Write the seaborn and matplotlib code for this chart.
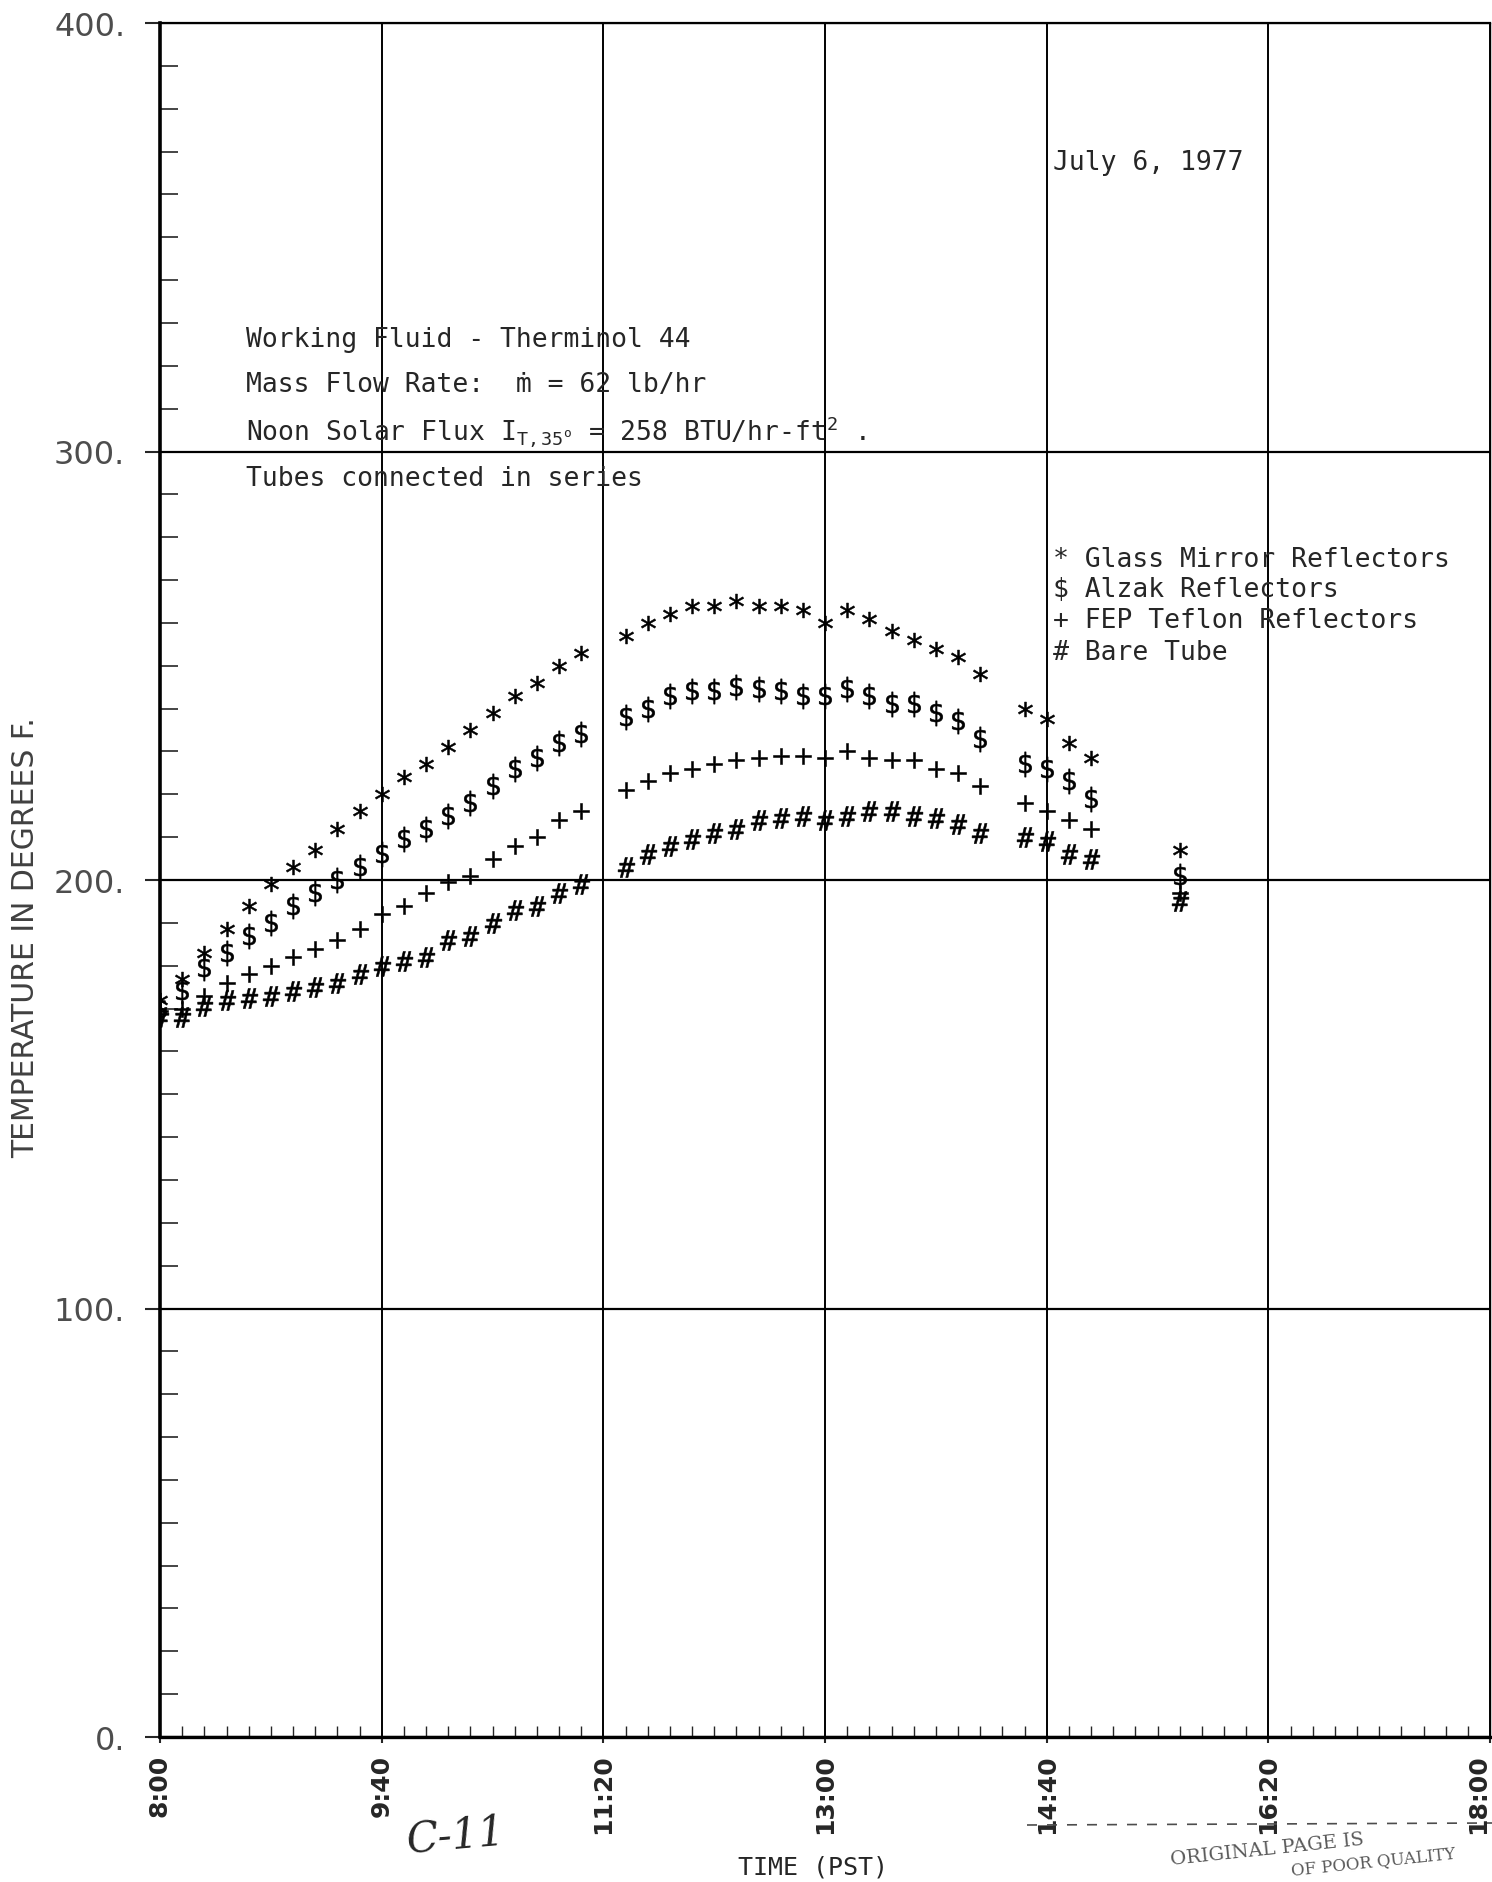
import numpy as np
import pandas as pd
import matplotlib
matplotlib.use("Agg")
import matplotlib.pyplot as plt
from matplotlib.lines import Line2D
from matplotlib.ticker import MultipleLocator
import seaborn as sns

# --- data (July 6, 1977 run) ---
times = ["8:00", "8:10", "8:20", "8:30", "8:40", "8:50", "9:00", "9:10", "9:20", "9:30",
         "9:40", "9:50", "10:00", "10:10", "10:20", "10:30", "10:40", "10:50", "11:00", "11:10",
         "11:30", "11:40", "11:50", "12:00", "12:10", "12:20", "12:30", "12:40", "12:50", "13:00",
         "13:10", "13:20", "13:30", "13:40", "13:50", "14:00", "14:10",
         "14:30", "14:40", "14:50", "15:00",
         "15:40"]

glass_mirror = [172, 177, 183, 188.5, 194, 199, 203, 207, 212, 216,
                220, 224, 227, 231, 235, 239, 243, 246, 250, 253,
                257, 260, 262, 264, 264, 265, 264, 264, 263, 260,
                263, 261, 258, 256, 254, 252, 248,
                240, 237.5, 232, 228.5,
                207]
alzak = [170, 174, 179.5, 183, 187, 190, 194, 197, 200, 203,
         206, 209.5, 212, 215, 218, 222, 226, 228.5, 232, 234,
         238, 240, 243, 244, 244, 245, 244.5, 244, 243, 243,
         244.5, 243, 241, 241, 239, 237, 233,
         227, 226, 223, 219,
         201]
fep_teflon = [169.5, 170, 173, 176, 178, 180, 182, 184, 186, 188.5,
              192, 194, 197, 199.5, 201, 205, 208, 210, 214, 216,
              221, 223, 225, 226, 227, 228, 228.5, 229, 229, 228.5,
              230, 228.5, 228, 228, 226, 225, 222,
              218, 216, 214, 212,
              197]
bare_tube = [168, 168, 170.5, 172, 172.5, 173, 174, 175, 176, 178,
             180, 181, 182, 186, 187, 190, 193, 194, 197, 199,
             203, 206, 208, 209.5, 211, 212, 214, 214.5, 215, 214,
             215, 216, 216, 215, 214.5, 213, 211,
             210, 209, 206, 205,
             195]

series_names = ["Glass Mirror Reflectors", "Alzak Reflectors", "FEP Teflon Reflectors", "Bare Tube"]
series_symbols = ["*", "$", "+", "#"]

x_ticks = ["8:00", "9:40", "11:20", "13:00", "14:40", "16:20", "18:00"]
y_ticks = [0, 100, 200, 300, 400]
y_tick_labels = ["0.", "100.", "200.", "300.", "400."]

info_lines = ["Working Fluid - Therminol 44",
              "Mass Flow Rate:  ṁ = 62 lb/hr",
              r"Noon Solar Flux I$_{\mathrm{T,35}^{\mathrm{o}}}$ = 258 BTU/hr-ft$^{\mathrm{2}}$ .",
              "Tubes connected in series"]
date_text = "July 6, 1977"


def to_minutes(t):
    h, m = t.split(":")
    return int(h) * 60 + int(m)


def build_frame():
    mins = [to_minutes(t) for t in times]
    parts = []
    for name, vals in zip(series_names, [glass_mirror, alzak, fep_teflon, bare_tube]):
        parts.append(pd.DataFrame({"minutes": mins, "temp": vals, "series": name}))
    return pd.concat(parts, ignore_index=True)


def main():
    sns.set_style("ticks")
    plt.rcParams["font.family"] = ["DejaVu Sans"]
    plt.rcParams["mathtext.fontset"] = "custom"
    plt.rcParams["mathtext.rm"] = "DejaVu Sans Mono"
    plt.rcParams["mathtext.it"] = "DejaVu Sans Mono"
    plt.rcParams["mathtext.bf"] = "DejaVu Sans Mono:bold"

    df = build_frame()

    fig = plt.figure(figsize=(14.92, 18.83), dpi=100)
    ax = fig.add_axes([160 / 1492, 1 - 1738 / 1883, 1330 / 1492, 1714 / 1883])

    # typewriter glyphs as markers
    marker_map = {"*": (r"$*$", 115), "$": (r"$\$$", 330), "+": (r"$+$", 135), "#": (r"$\#$", 210)}
    for name, sym in zip(series_names, series_symbols):
        mk, size = marker_map[sym]
        sub = df[df["series"] == name]
        sns.scatterplot(data=sub, x="minutes", y="temp", marker=mk, s=size,
                        color="black", edgecolor="black", linewidth=0.4, ax=ax, legend=False)

    ax.set_xlim(to_minutes("8:00"), to_minutes("18:00"))
    ax.set_ylim(0, 400)

    xt = [to_minutes(t) for t in x_ticks]
    ax.set_xticks(xt)
    ax.set_xticklabels(x_ticks, rotation=90, fontsize=18, fontweight="bold", va="top")
    # last label sits on the page edge; keep it inside
    ax.get_xticklabels()[-1].set_horizontalalignment("right")
    ax.xaxis.set_minor_locator(MultipleLocator(10))
    ax.set_yticks(y_ticks)
    ax.set_yticklabels(y_tick_labels, fontsize=23, color="0.3")
    ax.yaxis.set_minor_locator(MultipleLocator(10))

    ax.tick_params(axis="y", which="major", direction="out", length=11, width=1.5, pad=14)
    ax.tick_params(axis="y", which="minor", direction="in", length=13, width=1.2)
    ax.tick_params(axis="x", which="major", direction="out", length=4, width=1.5, pad=8)
    ax.tick_params(axis="x", which="minor", direction="in", length=8, width=1.0)

    for xv in xt:
        ax.axvline(xv, color="black", lw=1.4, zorder=1)
    for yv in y_ticks:
        ax.axhline(yv, color="black", lw=1.6, zorder=1)

    ax.spines["left"].set_linewidth(2.6)
    ax.spines["bottom"].set_linewidth(2.4)
    ax.spines["top"].set_linewidth(1.6)
    ax.spines["right"].set_linewidth(1.0)
    for s in ax.spines.values():
        s.set_color("black")

    ax.set_xlabel("TIME (PST)", fontsize=18, family="DejaVu Sans Mono")
    ax.xaxis.set_label_coords(0.491, -0.0685)
    ax.set_ylabel("TEMPERATURE IN DEGREES F.", fontsize=21.5, color="0.25")
    ax.yaxis.set_label_coords(-0.090, 0.467)

    mono = ["DejaVu Sans Mono", "DejaVu Sans"]
    info_y = [326.3, 315.8, 304.9, 293.9]
    for line, yv in zip(info_lines, info_y):
        ax.text(to_minutes("8:39"), yv, line, fontsize=19, family=mono, va="center", ha="left")

    ax.text(to_minutes("14:43"), 367.6, date_text, fontsize=19, family=mono, va="center", ha="left")

    leg_y = [275.0, 268.0, 260.6, 253.3]
    for sym, name, yv in zip(series_symbols, series_names, leg_y):
        ax.text(to_minutes("14:43"), yv, f"{sym} {name}", fontsize=19, family=mono,
                va="center", ha="left")

    # page furniture from the scan
    fig.text(456 / 1492, 1 - 1836 / 1883, "C-11", fontsize=30, style="italic",
             family="DejaVu Serif", ha="center", va="center", rotation=5)
    fig.add_artist(Line2D([1027 / 1492, 1.0], [1 - 1826 / 1883, 1 - 1824 / 1883],
                          transform=fig.transFigure, color="0.3", lw=1.2, ls=(0, (6, 6))))
    fig.text(1170 / 1492, 1 - 1850 / 1883, "ORIGINAL PAGE IS", fontsize=14, family="DejaVu Serif",
             color="0.35", rotation=6, ha="left", va="center")
    fig.text(1290 / 1492, 1 - 1862 / 1883, "OF POOR QUALITY", fontsize=12, family="DejaVu Serif",
             color="0.35", rotation=6, ha="left", va="center")

    fig.savefig("out.png", dpi=100)


if __name__ == "__main__":
    main()
